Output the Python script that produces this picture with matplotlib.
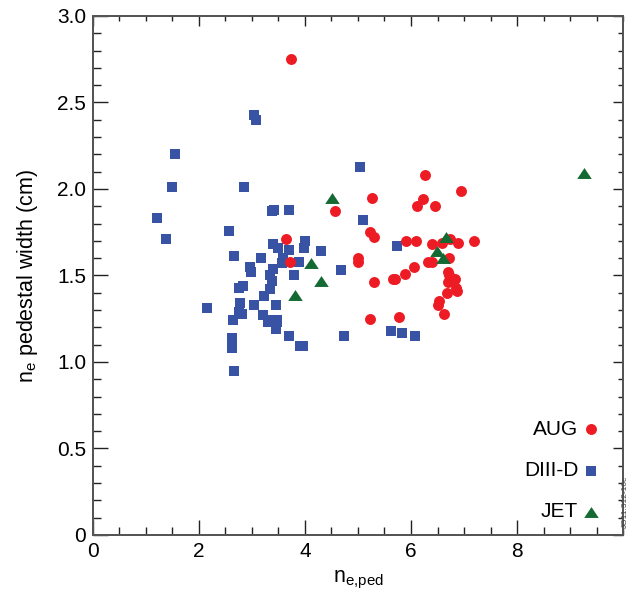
import numpy as np
import matplotlib
matplotlib.use("Agg")
from matplotlib import pyplot as plt
from matplotlib.ticker import MultipleLocator, FixedLocator, FuncFormatter

plt.rcParams['font.family'] = ['Liberation Sans', 'DejaVu Sans']

# AUG (circulos vermelhos)
aug_x = [3.74, 3.64, 3.72, 6.26, 6.94, 5.26, 4.57, 6.23, 6.11, 6.45, 5.23, 5.30,
         5.91, 6.09, 6.40, 6.58, 6.74, 6.89, 7.19, 5.00, 5.00, 6.32, 6.40, 6.72,
         6.06, 5.89, 6.70, 6.72, 5.70, 5.66, 6.83, 6.70, 5.30, 6.85, 6.87, 6.68,
         6.53, 6.51, 6.62, 5.23, 5.77]
aug_y = [2.75, 1.71, 1.58, 2.08, 1.99, 1.95, 1.87, 1.94, 1.90, 1.90, 1.75, 1.72,
         1.70, 1.70, 1.68, 1.69, 1.71, 1.69, 1.70, 1.60, 1.58, 1.58, 1.58, 1.60,
         1.55, 1.51, 1.52, 1.50, 1.48, 1.48, 1.48, 1.46, 1.46, 1.43, 1.41, 1.40,
         1.35, 1.33, 1.28, 1.25, 1.26]

# DIII-D (quadrados azuis)
d3d_x = [3.04, 3.08, 1.55, 1.49, 2.85, 3.38, 3.42, 3.70, 1.21, 2.57, 1.38, 3.40,
         3.49, 3.70, 4.00, 3.98, 2.66, 3.17, 3.58, 3.57, 3.89, 2.96, 2.98, 3.40,
         3.34, 3.79, 3.38, 2.75, 2.83, 3.34, 3.23, 2.15, 2.77, 3.04, 3.45, 2.75,
         2.81, 3.21, 3.32, 3.47, 3.30, 3.47, 3.45, 2.64, 3.70, 3.91, 3.96, 2.62,
         2.62, 2.66, 5.04, 5.09, 4.30, 4.68, 5.74, 4.74, 5.62, 5.83, 6.08]
d3d_y = [2.43, 2.40, 2.20, 2.01, 2.01, 1.87, 1.88, 1.88, 1.83, 1.76, 1.71, 1.68,
         1.66, 1.65, 1.70, 1.66, 1.61, 1.60, 1.60, 1.57, 1.58, 1.55, 1.52, 1.54,
         1.50, 1.50, 1.47, 1.43, 1.44, 1.42, 1.38, 1.31, 1.34, 1.33, 1.33, 1.29,
         1.28, 1.27, 1.24, 1.24, 1.23, 1.23, 1.19, 1.24, 1.15, 1.09, 1.09, 1.14,
         1.08, 0.95, 2.13, 1.82, 1.64, 1.53, 1.67, 1.15, 1.18, 1.17, 1.15]

# JET (triangulos verdes)
jet_x = [4.51, 4.11, 4.30, 3.81, 6.66, 6.49, 6.60, 9.26]
jet_y = [1.95, 1.57, 1.47, 1.39, 1.72, 1.64, 1.60, 2.09]

xticks = [0, 2, 4, 6, 8]

cor_aug = '#ED1C24'
cor_d3d = '#3953A4'
cor_jet = '#146A32'
tri = [(0, 0.75), (-1, -0.75), (1, -0.75)]
cinza = '#555555'

fig = plt.figure(figsize=(6.3, 5.97), dpi=100)
ax = fig.add_axes([0.1476, 0.1039, 0.8413, 0.8693])

h_d3d = ax.scatter(d3d_x, d3d_y, s=58, marker='s', color=cor_d3d, linewidths=0, label='DIII-D')
h_aug = ax.scatter(aug_x, aug_y, s=62, marker='o', color=cor_aug, linewidths=0, label='AUG')
h_jet = ax.scatter(jet_x, jet_y, s=110, marker=tri, color=cor_jet, linewidths=0, label='JET')

ax.set_xlim(0, 10)
ax.set_ylim(0, 3.0)
ax.xaxis.set_major_locator(FixedLocator(xticks))
ax.xaxis.set_minor_locator(MultipleLocator(0.5))
ax.yaxis.set_major_locator(MultipleLocator(0.5))
ax.yaxis.set_minor_locator(MultipleLocator(0.1))
ax.xaxis.set_major_formatter(FuncFormatter(lambda v, p: '%d' % v))
ax.yaxis.set_major_formatter(FuncFormatter(lambda v, p: '0' if v == 0 else '%.1f' % v))
ax.tick_params(which='both', direction='in', color='#222222', labelsize=15, width=1.0, pad=5)
ax.tick_params(which='major', length=11)
ax.tick_params(which='minor', length=5.5)

# ticks mais curtos no topo e na direita
tx = ax.twiny()
tx.set_xlim(ax.get_xlim())
tx.xaxis.set_major_locator(FixedLocator(xticks))
tx.xaxis.set_minor_locator(MultipleLocator(0.5))
tx.tick_params(which='both', direction='in', labeltop=False, color='#222222', width=1.0)
tx.tick_params(which='major', length=7)
tx.tick_params(which='minor', length=3.3)
ty = ax.twinx()
ty.set_ylim(ax.get_ylim())
ty.yaxis.set_major_locator(MultipleLocator(0.5))
ty.yaxis.set_minor_locator(MultipleLocator(0.1))
ty.tick_params(which='both', direction='in', labelright=False, color='#222222', width=1.0)
ty.tick_params(which='major', length=7)
ty.tick_params(which='minor', length=3.3)

for a in (ax, tx, ty):
    for sp in a.spines.values():
        sp.set_color(cinza)
        sp.set_linewidth(1.3)

ax.set_xlabel(r'n$_\mathregular{e{,}ped}$', fontsize=15.5, labelpad=6)
ax.set_ylabel(r'n$_\mathregular{e}$ pedestal width (cm)', fontsize=15.5, labelpad=12)

ty.legend(handles=[h_aug, h_d3d, h_jet], loc='lower right', bbox_to_anchor=(0.955, 0.026),
          frameon=False, markerfirst=False, fontsize=15, scatterpoints=1,
          handlelength=0.8, handletextpad=0.2, labelspacing=1.07,
          borderpad=0, borderaxespad=0)

fig.text(0.9925, 0.16, 'JG11.312-16c', rotation=90, fontsize=6, color='#444444',
         ha='center', va='center')

fig.savefig('out.png', dpi=100)
